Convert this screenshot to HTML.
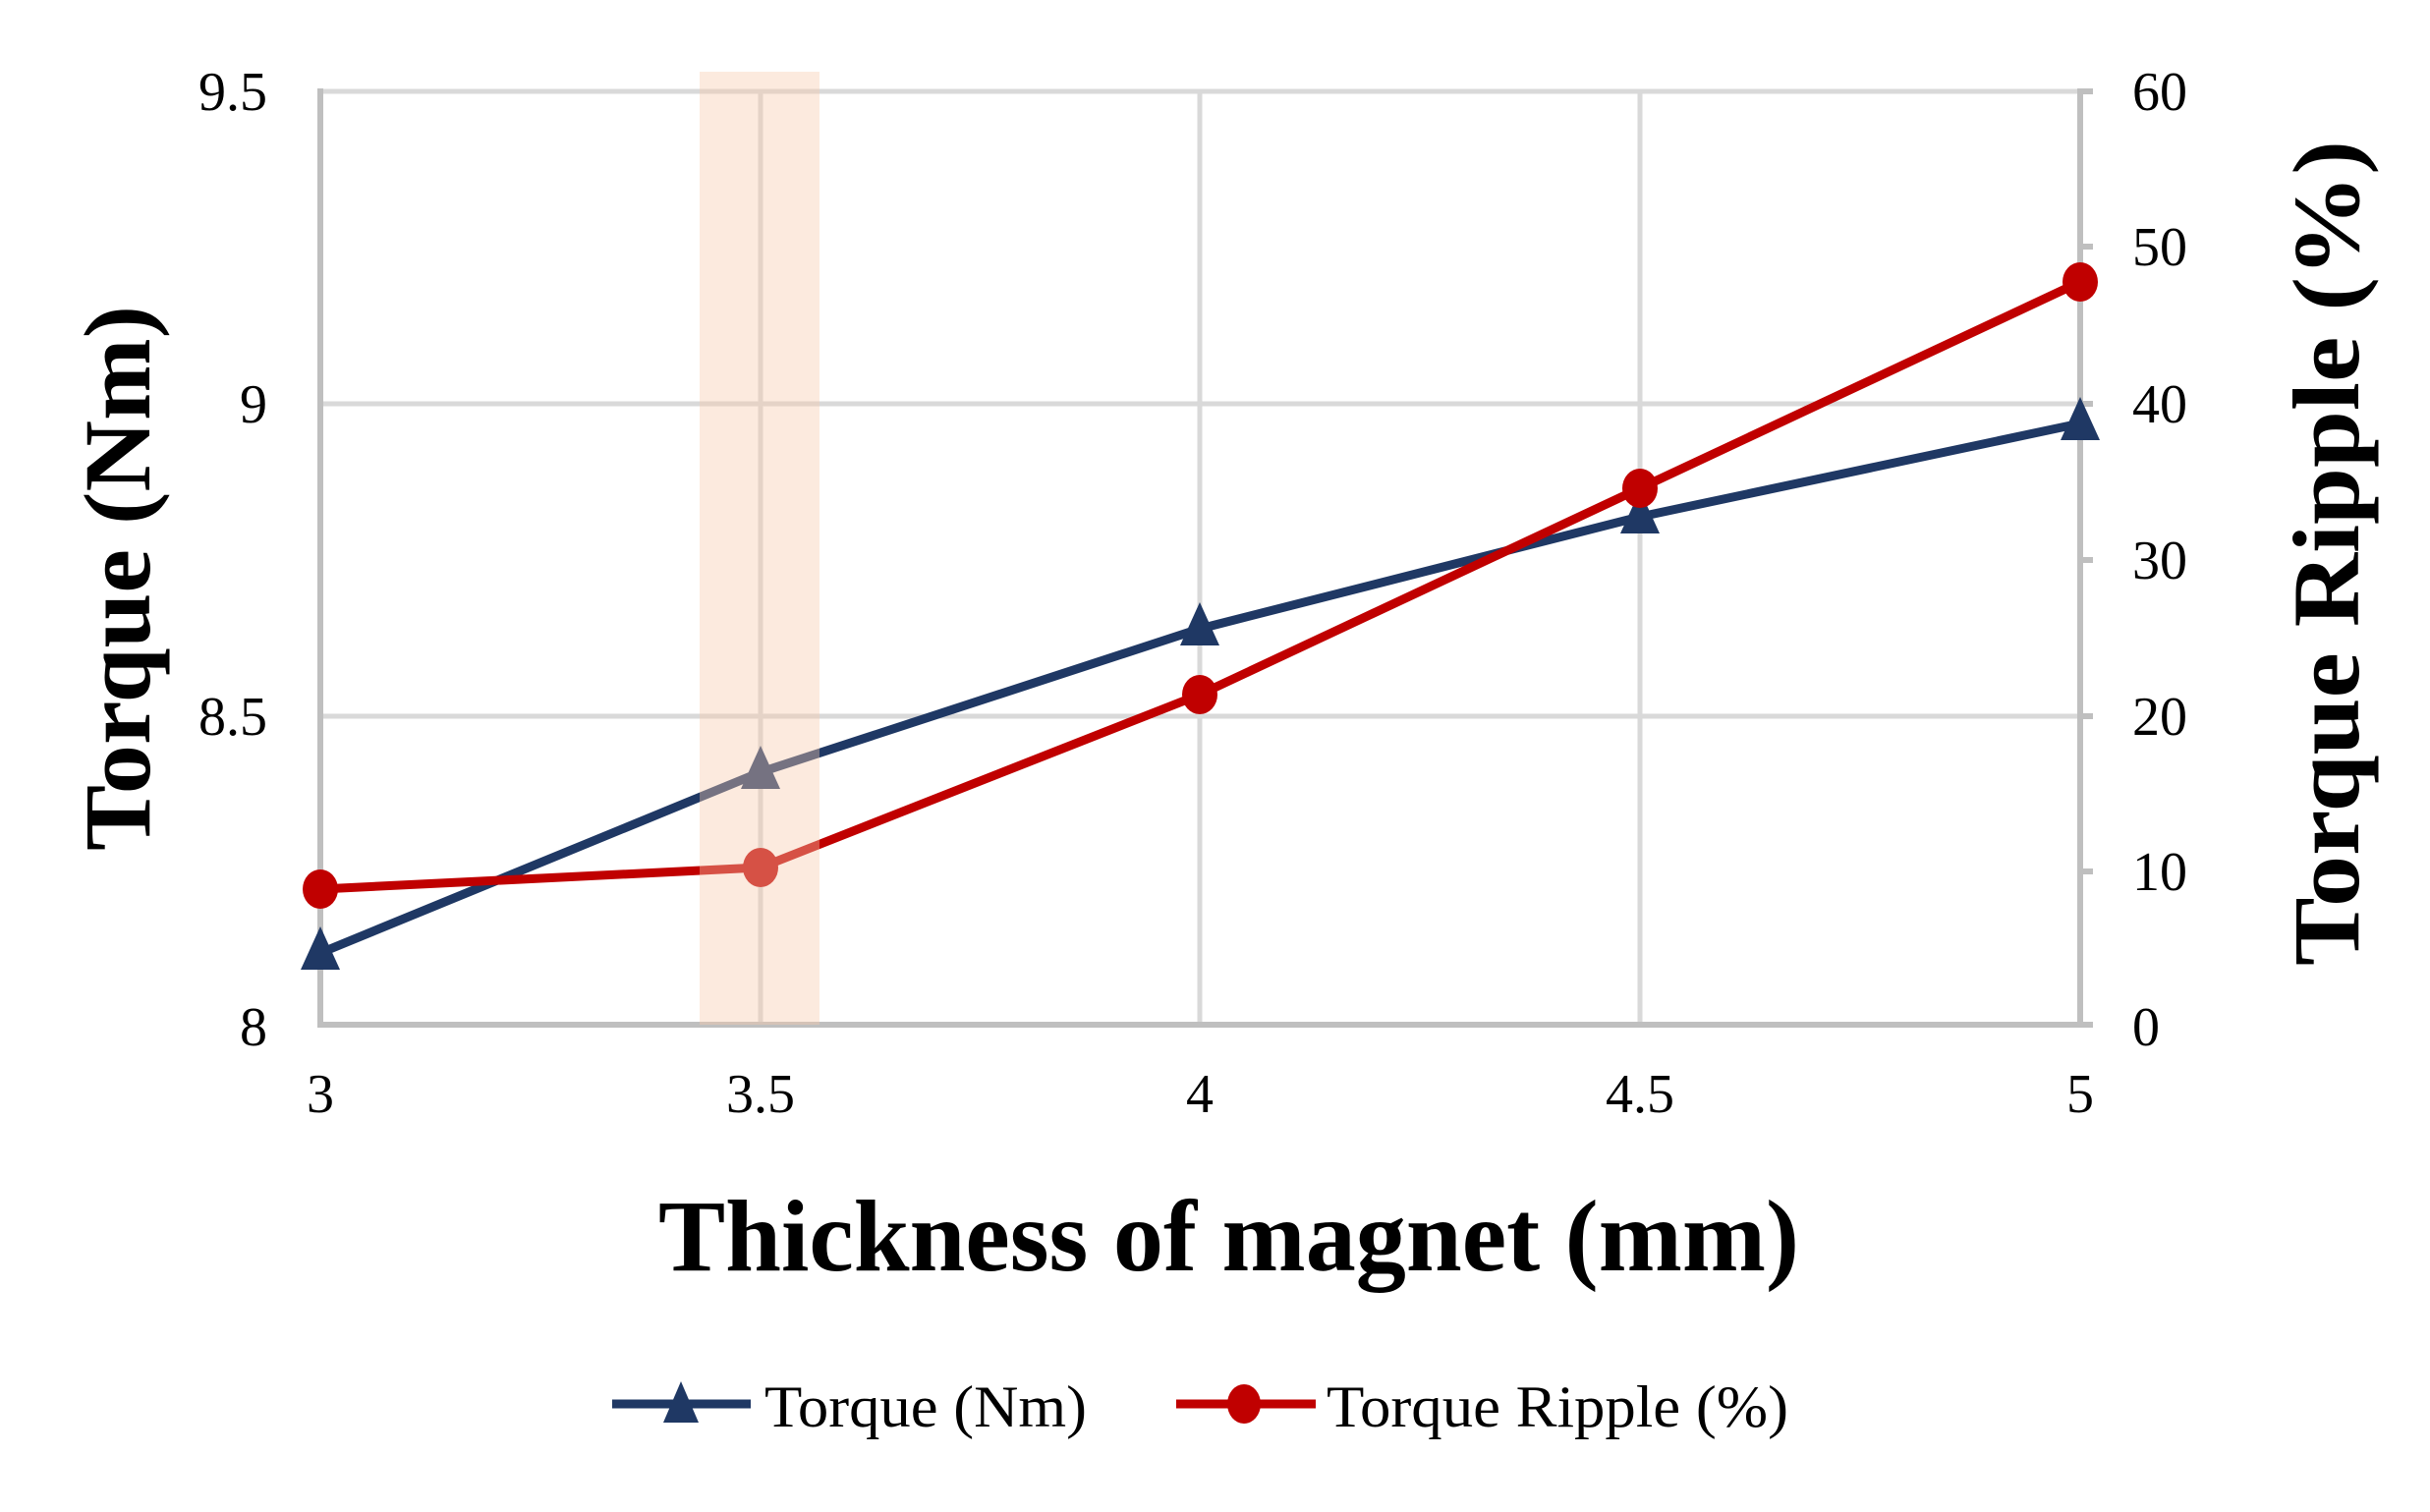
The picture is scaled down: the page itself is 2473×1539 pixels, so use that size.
<!DOCTYPE html>
<html><head><meta charset="utf-8"><style>html,body{margin:0;padding:0;background:#fff}svg{display:block}</style></head>
<body>
<svg width="2473" height="1539" viewBox="0 0 2473 1539" xmlns="http://www.w3.org/2000/svg" font-family="'Liberation Serif', serif">
<rect width="2473" height="1539" fill="#fff"/>
<g stroke="#d9d9d9" stroke-width="5">
<line x1="326" y1="93" x2="2117" y2="93"/>
<line x1="326" y1="411" x2="2117" y2="411"/>
<line x1="326" y1="729" x2="2117" y2="729"/>
<line x1="774" y1="93" x2="774" y2="1043"/>
<line x1="1221" y1="93" x2="1221" y2="1043"/>
<line x1="1669" y1="93" x2="1669" y2="1043"/>
</g>
<g stroke="#bfbfbf" stroke-width="6">
<line x1="326" y1="90" x2="326" y2="1043"/>
<line x1="2117" y1="90" x2="2117" y2="1043"/>
<line x1="323" y1="1043" x2="2120" y2="1043"/>
<line x1="2117" y1="93" x2="2130" y2="93"/>
<line x1="2117" y1="251" x2="2130" y2="251"/>
<line x1="2117" y1="411" x2="2130" y2="411"/>
<line x1="2117" y1="570" x2="2130" y2="570"/>
<line x1="2117" y1="729" x2="2130" y2="729"/>
<line x1="2117" y1="887" x2="2130" y2="887"/>
<line x1="2117" y1="1043" x2="2130" y2="1043"/>
</g>
<polyline points="326,970 774,786 1221,640 1669,526 2117,431" fill="none" stroke="#1f3864" stroke-width="9"/>
<polyline points="326,905 774,883 1221,707 1669,497 2117,287" fill="none" stroke="#c00000" stroke-width="9"/>
<g fill="#1f3864">
<polygon points="326,943 306,987 346,987"/>
<polygon points="774,759 754,803 794,803"/>
<polygon points="1221,613 1201,657 1241,657"/>
<polygon points="1669,499 1649,543 1689,543"/>
<polygon points="2117,404 2097,448 2137,448"/>
</g>
<g fill="#c00000">
<ellipse cx="326" cy="905" rx="18" ry="20"/>
<ellipse cx="774" cy="883" rx="18" ry="20"/>
<ellipse cx="1221" cy="707" rx="18" ry="20"/>
<ellipse cx="1669" cy="497" rx="18" ry="20"/>
<ellipse cx="2117" cy="287" rx="18" ry="20"/>
</g>
<rect x="712" y="73" width="122" height="970" fill="#f8cbad" opacity="0.4"/>
<g font-size="56" fill="#000" text-anchor="end">
<text x="272" y="112">9.5</text>
<text x="272" y="430">9</text>
<text x="272" y="748">8.5</text>
<text x="272" y="1064">8</text>
</g>
<g font-size="56" fill="#000" text-anchor="start">
<text x="2170" y="112">60</text>
<text x="2170" y="270">50</text>
<text x="2170" y="430">40</text>
<text x="2170" y="589">30</text>
<text x="2170" y="748">20</text>
<text x="2170" y="906">10</text>
<text x="2170" y="1064">0</text>
</g>
<g font-size="56" fill="#000" text-anchor="middle">
<text x="326" y="1132">3</text>
<text x="774" y="1132">3.5</text>
<text x="1221" y="1132">4</text>
<text x="1669" y="1132">4.5</text>
<text x="2117" y="1132">5</text>
</g>
<text x="670" y="1293" font-size="104" font-weight="bold" textLength="1161" lengthAdjust="spacingAndGlyphs">Thickness  of magnet  (mm)</text>
<text transform="translate(152,866) rotate(-90)" font-size="96" font-weight="bold" textLength="555" lengthAdjust="spacingAndGlyphs">Torque  (Nm)</text>
<text transform="translate(2400,983) rotate(-90)" font-size="96" font-weight="bold" textLength="840" lengthAdjust="spacingAndGlyphs">Torque  Ripple  (%)</text>
<line x1="623" y1="1429" x2="764" y2="1429" stroke="#1f3864" stroke-width="9"/>
<polygon points="693,1406 675,1448 711,1448" fill="#1f3864"/>
<text x="778" y="1452" font-size="60" textLength="328" lengthAdjust="spacingAndGlyphs">Torque (Nm)</text>
<line x1="1197" y1="1429" x2="1339" y2="1429" stroke="#c00000" stroke-width="9"/>
<ellipse cx="1266" cy="1429" rx="17" ry="20" fill="#c00000"/>
<text x="1350" y="1452" font-size="60" textLength="470" lengthAdjust="spacingAndGlyphs">Torque Ripple (%)</text>
</svg>
</body></html>
